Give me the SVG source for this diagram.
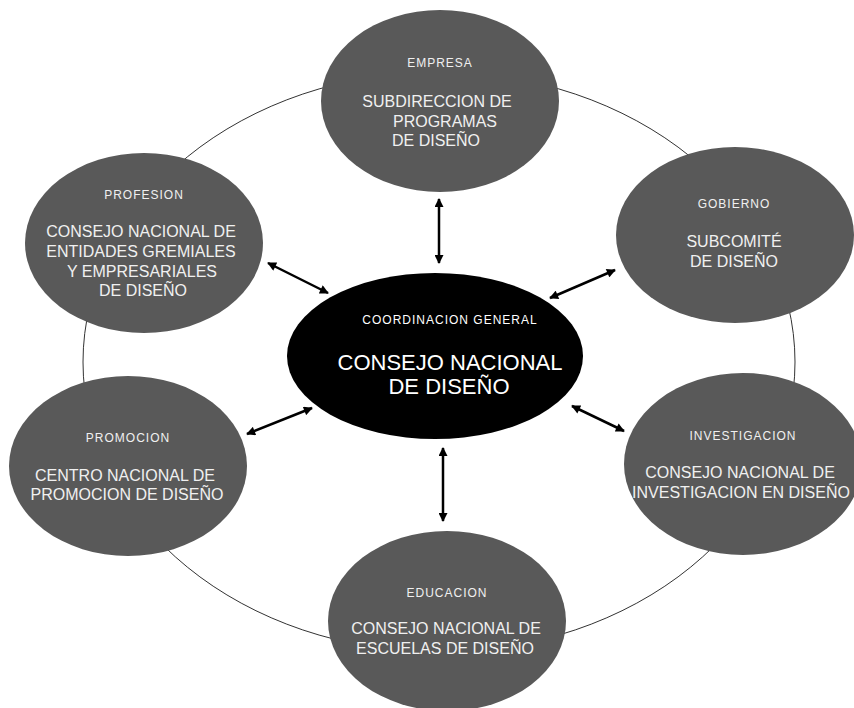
<svg xmlns="http://www.w3.org/2000/svg" width="854" height="708" viewBox="0 0 854 708">
  <defs>
    <marker id="ah" viewBox="0 0 10 10" refX="9" refY="5" markerWidth="10" markerHeight="9" markerUnits="userSpaceOnUse" orient="auto-start-reverse">
      <path d="M0,0 L10,5 L0,10 Z" fill="#000"/>
    </marker>
    <style>
      .node { fill: #595959; }
      .t { font-family: "Liberation Sans", Arial, sans-serif; fill: #f0f0f0; text-anchor: middle; }
      .h { font-size: 12px; letter-spacing: 1px; }
      .b { font-size: 16px; }
      .conn { stroke: #000; stroke-width: 2.5; fill: none; marker-start: url(#ah); marker-end: url(#ah); }
      .ring { fill: none; stroke: #333; stroke-width: 1; }
    </style>
  </defs>
  <rect width="854" height="708" fill="#fff"/>
  <ellipse class="ring" cx="439" cy="362" rx="356" ry="290"/>

  <g id="empresa">
    <ellipse class="node" cx="440" cy="101" rx="119" ry="91"/>
    <text class="t h" x="440" y="67">EMPRESA</text>
    <text class="t b" x="437" y="107">SUBDIRECCION DE</text>
    <text class="t b" x="445" y="127">PROGRAMAS</text>
    <text class="t b" x="436" y="146">DE DISEÑO</text>
  </g>

  <g id="profesion">
    <ellipse class="node" cx="144" cy="243" rx="119" ry="90"/>
    <text class="t h" x="144" y="199">PROFESION</text>
    <text class="t b" x="141" y="237">CONSEJO NACIONAL DE</text>
    <text class="t b" x="141" y="257">ENTIDADES GREMIALES</text>
    <text class="t b" x="142" y="277">Y EMPRESARIALES</text>
    <text class="t b" x="143" y="296">DE DISEÑO</text>
  </g>

  <g id="gobierno">
    <ellipse class="node" cx="735" cy="235" rx="119" ry="88"/>
    <text class="t h" x="734" y="208">GOBIERNO</text>
    <text class="t b" x="734" y="247">SUBCOMITÉ</text>
    <text class="t b" x="734" y="267">DE DISEÑO</text>
  </g>

  <g id="promocion">
    <ellipse class="node" cx="128" cy="466" rx="119" ry="90"/>
    <text class="t h" x="128" y="442">PROMOCION</text>
    <text class="t b" x="125" y="481">CENTRO NACIONAL DE</text>
    <text class="t b" x="127" y="500">PROMOCION DE DISEÑO</text>
  </g>

  <g id="investigacion">
    <ellipse class="node" cx="743" cy="464" rx="119" ry="91"/>
    <text class="t h" x="743" y="440">INVESTIGACION</text>
    <text class="t b" x="740" y="478">CONSEJO NACIONAL DE</text>
    <text class="t b" x="741" y="498">INVESTIGACION EN DISEÑO</text>
  </g>

  <g id="educacion">
    <ellipse class="node" cx="447" cy="621" rx="119" ry="90"/>
    <text class="t h" x="447" y="597">EDUCACION</text>
    <text class="t b" x="446" y="634">CONSEJO NACIONAL DE</text>
    <text class="t b" x="445" y="654">ESCUELAS DE DISEÑO</text>
  </g>

  <g id="coordinacion">
    <ellipse cx="435" cy="356" rx="148" ry="83" fill="#000"/>
    <text class="t h" x="450" y="324" style="fill:#fff">COORDINACION GENERAL</text>
    <text class="t" x="450" y="370" style="fill:#fff;font-size:22px">CONSEJO NACIONAL</text>
    <text class="t" x="449" y="394" style="fill:#fff;font-size:22px">DE DISEÑO</text>
  </g>

  <g id="connectors">
    <line class="conn" x1="439" y1="199" x2="439" y2="263"/>
    <line class="conn" x1="268" y1="263" x2="328" y2="293"/>
    <line class="conn" x1="615" y1="270" x2="550" y2="298"/>
    <line class="conn" x1="247" y1="434" x2="312" y2="408"/>
    <line class="conn" x1="572" y1="406" x2="624" y2="431"/>
    <line class="conn" x1="443" y1="448" x2="443" y2="521"/>
  </g>
</svg>
